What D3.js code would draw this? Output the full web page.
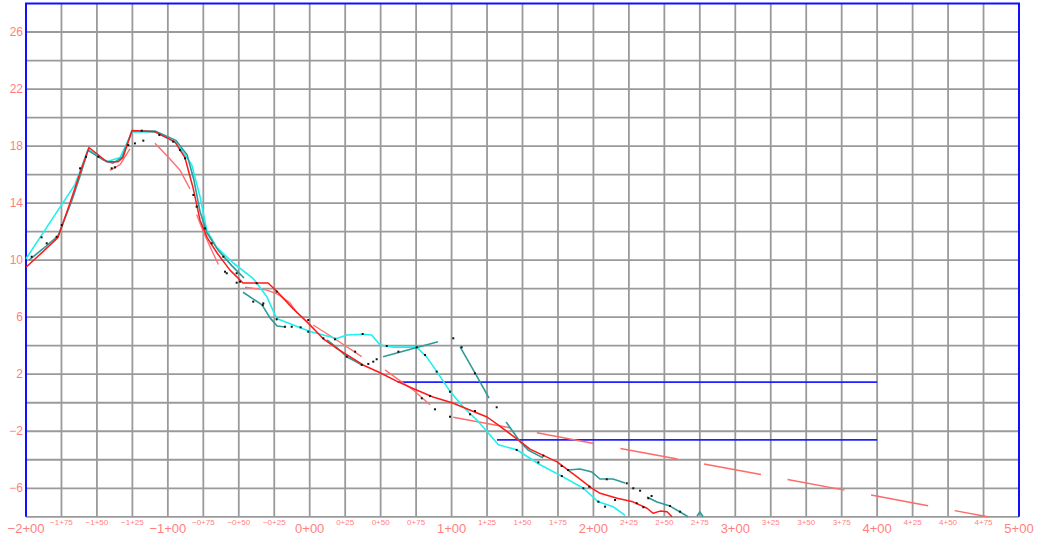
<!DOCTYPE html>
<html>
<head>
<meta charset="utf-8">
<script src="https://cdn.jsdelivr.net/npm/d3@7/dist/d3.min.js"></script>
<style>
  body { margin: 0; background: #fff; }
  svg { display: block; font-family: "Liberation Sans", Arial, sans-serif; }
</style>
</head>
<body>
<div id="canvasContainer"></div>
<script>
// station / elevation pairs
var redLine = [
  [-200, 9.5], [-188, 10.6], [-177.4, 11.6], [-169, 14.0], [-162, 16.1], [-155.6, 17.9],
  [-143, 16.9], [-135, 16.9], [-131.6, 17.2], [-125.3, 19.1], [-109, 19.0], [-95, 18.3],
  [-88, 17.2], [-82.3, 15.1], [-77.3, 12.8], [-72.4, 11.6], [-65.3, 10.5], [-56.2, 9.3],
  [-47, 8.4], [-29.4, 8.4], [-23, 7.8], [-11.8, 6.6], [-1.2, 5.6], [9.4, 4.5], [19.3, 3.8],
  [26.3, 3.35], [37.6, 2.65], [49.6, 2.1], [61.6, 1.5], [72.8, 1.0], [86.9, 0.4], [100.3, 0.0],
  [125, -1.0], [132.8, -1.55], [146.9, -2.6], [155.3, -3.25], [174.4, -4.15], [188.5, -5.2],
  [199, -6.0], [204.7, -6.35], [216.7, -6.7], [227.9, -6.95], [237.8, -7.4], [242, -7.75],
  [247, -7.6], [251.9, -7.65], [255.4, -8.0]
];

var cyanLine = [
  [-200, 10.1], [-165.5, 15.3], [-156.1, 17.8], [-143.1, 16.9], [-133.7, 17.2], [-125.1, 19.0],
  [-109.1, 19.0], [-93.8, 18.2], [-83.2, 16.7], [-77.3, 14.45], [-72.6, 12.1], [-65.6, 10.9],
  [-53.9, 9.8], [-39.8, 8.7], [-30.3, 7.45], [-23.3, 5.9], [-11.6, 5.45], [0.2, 5.0], [19, 4.5],
  [26.1, 4.75], [37.8, 4.8], [43.7, 4.75], [49.6, 4.05], [58.9, 3.9], [75.4, 3.9], [82.5, 3.2],
  [89.5, 2.2], [98.9, 0.8], [108.3, -0.3], [117.7, -1.2], [124.8, -2.0], [133, -2.95],
  [145.9, -3.3], [162.4, -4.35], [177.6, -5.15], [192.9, -6.0], [203.4, -6.95], [214, -7.3],
  [222.3, -7.9]
];

// the teal survey line comes in broken pieces
var teal1 = [
  [-197.9, 10.0], [-188, 10.8], [-177.4, 11.7], [-167.6, 14.2], [-161.9, 15.9], [-156.3, 17.7],
  [-145, 17.0], [-138.7, 16.8], [-132.3, 17.2], [-125.3, 19.06], [-109.1, 19.06], [-94.3, 18.4],
  [-86.5, 17.4], [-81.6, 15.6], [-77.3, 13.4], [-72.4, 11.9], [-64.6, 10.7], [-54.8, 9.6],
  [-46.3, 8.75]
];
var teal2 = [[-47, 7.75], [-33.6, 6.86], [-28, 5.95], [-23, 5.38], [-17.4, 5.31]];
var teal3 = [[12.2, 4.4], [19.3, 3.84], [26.3, 3.21], [30.5, 3.0], [36.9, 2.65]];
var teal4 = [[51.7, 3.22], [90.4, 4.27]];
var teal5 = [[106, 3.92], [116.5, 2.09], [126.4, 0.33]];
var teal6 = [[138.4, -1.34], [143.3, -2.04], [148.3, -2.74], [153.9, -3.31], [164.5, -3.87]];
var teal7 = [[182.1, -4.72], [190.5, -4.65], [199, -4.86], [204.6, -5.35], [213.8, -5.35], [222.3, -5.63]];
var teal8 = [[237.8, -6.61], [244.8, -6.96], [254, -7.25], [261.1, -7.66], [266.7, -8.0]];
var teal9 = [[273, -7.94], [275.1, -7.66], [277.3, -8.0]];

// pale red pieces
var pale1 = [[-140.8, 16.3], [-137, 16.5], [-133.7, 16.7], [-126.7, 17.8]];
var pale2 = [[-109.1, 18.2], [-98.5, 17.1], [-91.4, 16.3], [-84.4, 15.0]];
var pale3 = [[-79.7, 13.2], [-75, 12.0], [-69.1, 10.7], [-64.4, 9.7]];
var pale4 = [[-45.6, 8.1], [-30.1, 7.9], [-22.3, 7.6], [-13.9, 7.0], [-8.9, 6.3]];
var pale5 = [[2.5, 5.45], [19, 4.4], [36.6, 3.23]];
var pale6 = [[53.1, 2.3], [61.3, 1.71], [73, 0.89], [84.8, -0.14]];

// dashed red grade line and the two blue levels
var dashedRed = [[101.2, -1.02], [478, -8.0]];
var blueUpper = [[62, 1.45], [400, 1.45]];
var blueLower = [[132, -2.6], [400, -2.6]];

// black survey shots
var shots = [
  [-196, 10.24], [-189, 11.6], [-185.4, 11.18], [-178.4, 11.64], [-174.8, 12.46], [-161.9, 16.44],
  [-157.7, 17.25], [-149, 17.25], [-139.6, 16.44], [-137.3, 16.51], [-127.9, 18.07], [-123.2, 18.19],
  [-117.3, 18.38], [-118.4, 19.08], [-106, 18.78], [-96.2, 18.31], [-91.4, 17.72], [-87.9, 17.14],
  [-82, 14.57], [-79.7, 13.75], [-73.8, 12.23], [-69.1, 11.18], [-60.9, 10.24], [-58.5, 9.08],
  [-51.5, 9.08], [-49.1, 8.49], [-37.4, 8.38], [-32.7, 6.97], [-39.8, 7.09], [-59.7, 9.19],
  [-51.5, 8.42], [-23.3, 7.79], [-33.1, 6.85], [-23.3, 5.85], [-17.4, 5.33], [-12.7, 5.33],
  [-6.4, 5.29], [-1, 5.8], [-1, 4.98], [9.6, 4.52], [17.8, 4.45], [26.1, 3.23], [32, 3.58],
  [36.7, 2.65], [41.3, 2.72], [44.8, 2.88], [47.2, 3.05], [37.3, 4.82], [54.3, 3.98], [62.5, 3.58],
  [75.4, 3.89], [81.3, 3.35], [101.2, 4.52], [107.1, 3.89], [89.5, 2.18], [84.8, 0.47], [79, 0.31],
  [98.9, 0.77], [116.5, 2.06], [88.3, -0.46], [131.8, -0.32], [98.9, -0.98], [113, -0.81],
  [116.5, -0.58], [145.9, -3.31], [161.2, -4.18], [164.7, -3.71], [177.6, -4.44], [182.1, -4.72],
  [192.9, -6.0], [197.1, -5.89], [209.4, -5.37], [223.5, -5.65], [177.7, -5.14], [203.5, -6.94],
  [208.2, -7.29], [215.2, -6.82], [230.5, -7.05], [235.2, -7.33], [238.7, -6.7], [254, -7.24],
  [261.1, -7.64], [228.1, -6.0], [232.9, -6.17], [241, -6.54]
];

var elevationTicks = [-6, -2, 2, 6, 10, 14, 18, 22, 26];
var majorStations = [-200, -100, 0, 100, 200, 300, 400, 500];
var minorStations = [-175, -150, -125, -75, -50, -25, 25, 50, 75, 125, 150, 175,
  225, 250, 275, 325, 350, 375, 425, 450, 475];

var width = 1038;
var height = 542;

var svg = d3.select("#canvasContainer").append("svg")
    .attr("width", width).attr("height", height);

var x = d3.scaleLinear().domain([-200, 500]).range([26, 1019]);
var y = d3.scaleLinear().domain([-8, 28]).range([516.8, 3.5]);

// station label like -1+75 / 0+25
function stationLabel(s) {
  var neg = s < 0;
  var a = Math.abs(s);
  var hundreds = Math.floor(a / 100);
  var rest = a % 100;
  return (neg ? "\u2212" : "") + hundreds + "+" + (rest < 10 ? "0" : "") + rest;
}

// grid
var grid = svg.append("g").attr("class", "grid");
grid.selectAll("line.v")
    .data(d3.range(-175, 500, 25))
  .enter().append("line")
    .attr("x1", function(d) { return x(d); })
    .attr("x2", function(d) { return x(d); })
    .attr("y1", y(28)).attr("y2", y(-8))
    .attr("stroke", "#9a9a9a").attr("stroke-width", 1.8);
grid.selectAll("line.h")
    .data(d3.range(-8, 28, 2))
  .enter().append("line")
    .attr("x1", x(-200)).attr("x2", x(500))
    .attr("y1", function(d) { return y(d); })
    .attr("y2", function(d) { return y(d); })
    .attr("stroke", "#9a9a9a").attr("stroke-width", 1.8);

// blue frame on left, top and right
svg.append("path")
    .attr("d", "M" + x(-200) + "," + y(-8) + "V" + y(28) + "H" + x(500) + "V" + y(-8))
    .attr("fill", "none").attr("stroke", "#1010ff").attr("stroke-width", 2);

var line = d3.line()
    .x(function(d) { return x(d[0]); })
    .y(function(d) { return y(d[1]); });

function drawLine(data, color, w, dash) {
  var p = svg.append("path")
      .datum(data)
      .attr("d", line)
      .attr("fill", "none")
      .attr("stroke", color)
      .attr("stroke-width", w)
      .attr("stroke-linejoin", "round");
  if (dash) p.attr("stroke-dasharray", dash);
  return p;
}

drawLine(blueUpper, "#2020ff", 1.8);
drawLine(blueLower, "#2020ff", 1.8);

[pale1, pale2, pale3, pale4, pale5, pale6].forEach(function(seg) {
  drawLine(seg, "#ff7070", 1.4);
});
drawLine(dashedRed, "#ff6a6a", 1.5, "58,27");

drawLine(cyanLine, "#1ef0f0", 1.6);

[teal1, teal2, teal3, teal4, teal5, teal6, teal7, teal8, teal9].forEach(function(seg) {
  drawLine(seg, "#2e9a9a", 1.6);
});

drawLine(redLine, "#ff1a1a", 1.5);

// survey shots
svg.append("g").selectAll("rect")
    .data(shots)
  .enter().append("rect")
    .attr("x", function(d) { return x(d[0]) - 1; })
    .attr("y", function(d) { return y(d[1]) - 1; })
    .attr("width", 2).attr("height", 2)
    .attr("fill", "#111");

// axis labels
var labelColor = "#ff7f7f";
svg.append("g").selectAll("text")
    .data(elevationTicks)
  .enter().append("text")
    .attr("x", 23)
    .attr("y", function(d) { return y(d); })
    .attr("dy", "0.35em")
    .attr("text-anchor", "end")
    .attr("font-size", 12)
    .attr("fill", labelColor)
    .text(function(d) { return d < 0 ? "\u2212" + Math.abs(d) : d; });

svg.append("g").selectAll("text")
    .data(majorStations)
  .enter().append("text")
    .attr("x", function(d) { return x(d); })
    .attr("y", 528)
    .attr("dy", "0.35em")
    .attr("text-anchor", "middle")
    .attr("font-size", 13)
    .attr("fill", labelColor)
    .text(stationLabel);

svg.append("g").selectAll("text")
    .data(minorStations)
  .enter().append("text")
    .attr("x", function(d) { return x(d); })
    .attr("y", 522)
    .attr("dy", "0.35em")
    .attr("text-anchor", "middle")
    .attr("font-size", 8)
    .attr("fill", labelColor)
    .text(stationLabel);
</script>
</body>
</html>
